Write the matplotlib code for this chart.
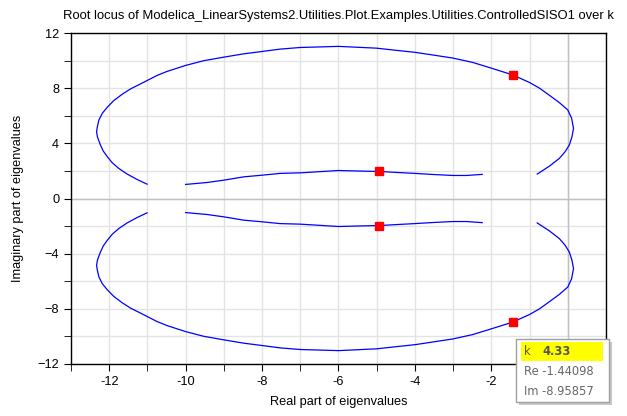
import numpy as np
import matplotlib
matplotlib.use("Agg")
import matplotlib.pyplot as plt
from matplotlib.patches import Rectangle
from matplotlib.ticker import MultipleLocator, FuncFormatter

plt.rcParams['font.family'] = ['Liberation Sans', 'DejaVu Sans']

# Outer branch (upper half)
outer_re = [-11.01, -11.27, -11.53, -11.75, -11.92, -12.05, -12.16, -12.24, -12.31, -12.33,
            -12.31, -12.27, -12.18, -12.05, -11.88, -11.66, -11.44, -11.18, -10.75, -10.49,
            -10.0, -9.53, -9.0, -8.48, -8.0, -7.53, -7.0, -6.0, -5.0, -4.48,
            -4.0, -3.52, -3.0, -2.48, -2.0, -1.44, -1.0, -0.74, -0.46, -0.22,
            0.0, 0.10, 0.15, 0.11, 0.04, -0.07, -0.22, -0.48, -0.80]
outer_im = [1.04, 1.38, 1.77, 2.18, 2.59, 3.03, 3.46, 3.95, 4.48, 4.85,
            5.21, 5.69, 6.18, 6.62, 7.10, 7.56, 7.95, 8.31, 8.92, 9.21,
            9.65, 9.99, 10.25, 10.49, 10.66, 10.83, 10.95, 11.03, 10.9, 10.74,
            10.6, 10.40, 10.18, 9.86, 9.45, 8.96, 8.41, 8.0, 7.44, 6.95,
            6.42, 5.82, 5.09, 4.48, 3.88, 3.39, 2.91, 2.35, 1.77]

# Inner branch (upper half)
inner_re = [-10.0, -9.44, -9.0, -8.48, -8.0, -7.53, -7.0, -6.0, -5.44, -4.93,
            -4.48, -4.0, -3.52, -3.0, -2.65, -2.24]
inner_im = [1.02, 1.16, 1.33, 1.57, 1.69, 1.82, 1.86, 2.03, 1.99, 1.96,
            1.89, 1.82, 1.74, 1.67, 1.67, 1.75]

# Eigenvalues at k = 4.33
k_re = [-1.44098, -1.44098, -4.93, -4.93]
k_im = [8.95857, -8.95857, 1.96, -1.96]

title = "Root locus of Modelica_LinearSystems2.Utilities.Plot.Examples.Utilities.ControlledSISO1 over k"

fig = plt.figure(figsize=(6.27, 4.16), dpi=100)
ax = fig.add_axes([71 / 627, 1 - 364 / 416, 535 / 627, 331 / 416])

blue = (0, 0, 1)
for sign in (1, -1):
    ax.plot(outer_re, sign * np.array(outer_im), color=blue, lw=0.9, zorder=3)
    ax.plot(inner_re, sign * np.array(inner_im), color=blue, lw=0.9, zorder=3)

ax.plot(k_re, k_im, 's', color='red', ms=6, mec='red', zorder=4, ls='none')

ax.set_xlim(-13, 1)
ax.set_ylim(-12, 12)
ax.xaxis.set_major_locator(MultipleLocator(2))
ax.xaxis.set_minor_locator(MultipleLocator(1))
ax.yaxis.set_major_locator(MultipleLocator(4))
ax.yaxis.set_minor_locator(MultipleLocator(2))
# the "0" label sits under the tooltip in the reference
ax.xaxis.set_major_formatter(FuncFormatter(lambda v, p: "" if abs(v) < 1e-9 else f"{v:g}"))
ax.grid(True, which='both', color='#e3e3e3', lw=1.0, zorder=0)
ax.axhline(0, color='#c0c0c0', lw=1.0, zorder=1)
ax.axvline(0, color='#c0c0c0', lw=1.0, zorder=1)
ax.set_axisbelow(True)

ax.tick_params(which='both', direction='out', color='black', labelsize=9.2, top=False, right=False)
ax.tick_params(which='major', length=5)
ax.tick_params(which='minor', length=5)
for s in ax.spines.values():
    s.set_linewidth(1.0)
    s.set_color('black')

ax.set_xlabel("Real part of eigenvalues", fontsize=9.2, labelpad=6)
ax.set_ylabel("Imaginary part of eigenvalues", fontsize=9.2, labelpad=10)
ax.set_title(title, fontsize=9.4, pad=10)

# Tooltip box
def fx(px):
    return px / 627

def fy(py):
    return 1 - py / 416

bx0, by0, bx1, by1 = 515.7, 339.3, 609.3, 401.7
fig.patches.append(Rectangle((fx(bx0 + 3), fy(by1 + 3)), fx(bx1 - bx0), (by1 - by0) / 416,
                             transform=fig.transFigure, facecolor='#c8c8c8', edgecolor='none',
                             zorder=5))
fig.patches.append(Rectangle((fx(bx0), fy(by1)), fx(bx1 - bx0), (by1 - by0) / 416,
                             transform=fig.transFigure, facecolor='white', edgecolor='#a0a0a0',
                             lw=1.0, zorder=6))
fig.patches.append(Rectangle((fx(521), fy(360.7)), fx(603 - 521), 19 / 416,
                             transform=fig.transFigure, facecolor='#ffff00', edgecolor='none',
                             zorder=7))
tip_font = ['DejaVu Sans']
fig.text(fx(524), fy(351.5), "k", fontsize=8.3, color='#555555', va='center', family=tip_font, zorder=8)
fig.text(fx(542), fy(351.5), "4.33", fontsize=8.3, color='#555555', va='center', weight='bold',
         family=tip_font, zorder=8)
fig.text(fx(524), fy(371.7), "Re -1.44098", fontsize=8.3, color='#666666', va='center',
         family=tip_font, zorder=8)
fig.text(fx(524), fy(391.5), "Im -8.95857", fontsize=8.3, color='#666666', va='center',
         family=tip_font, zorder=8)

fig.savefig("out.png", dpi=100)
